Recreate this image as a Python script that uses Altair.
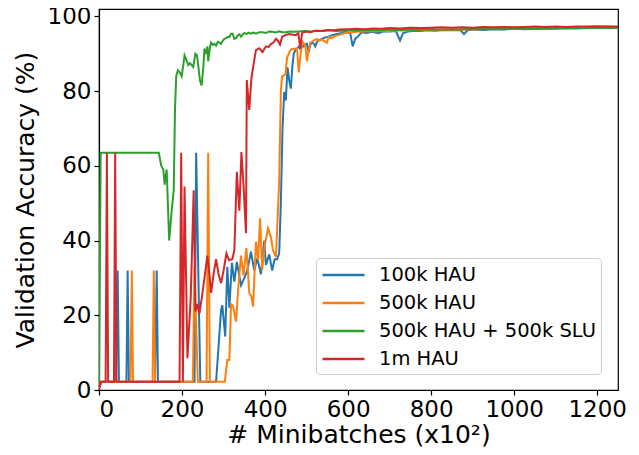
import altair as alt
import pandas as pd

SERIES = ["100k HAU", "500k HAU", "500k HAU + 500k SLU", "1m HAU"]
COLORS = ["#1f77b4", "#ff7f0e", "#2ca02c", "#d62728"]
X_TICKS = [0, 200, 400, 600, 800, 1000, 1200]
Y_TICKS = [0, 20, 40, 60, 80, 100]

# 100k HAU
blue_x = [0, 5, 41, 45, 48, 66, 69, 72, 135, 139, 142, 230, 234, 244, 282, 294, 297, 304, 309, 314,
          320, 326, 332, 342, 350, 357, 366, 374, 381, 390, 398, 402, 410, 417, 423, 429, 434, 438,
          442, 446, 450, 454, 458, 462, 466, 469, 473, 477, 482, 486, 490, 493, 497, 501, 505, 509,
          514, 517, 521, 525, 529, 537, 545, 553, 561, 573, 585, 593, 601, 605, 611, 617, 625, 633,
          645, 657, 665, 673, 681, 689, 700, 715, 725, 732, 745, 760, 775, 790, 810, 830, 850, 870,
          879, 888, 905, 925, 950, 975, 1000, 1025, 1050, 1075, 1100, 1125, 1150, 1175, 1200, 1225, 1250]
blue_y = [0.5, 2.2, 2.2, 32, 2.2, 2.2, 32, 2.2, 2.2, 32, 2.2, 2.2, 63.5, 2.2, 2.2, 21.4, 22.7, 14.3, 33, 22,
          34, 29, 34.3, 28, 30, 32, 37, 32, 35.3, 31, 40, 33.5, 36.3, 32, 35, 35, 36.6, 50,
          70, 79.8, 77.5, 86.4, 83, 80.7, 87, 90, 91, 91.4, 92, 91, 92.5, 92, 92.5, 92.7, 90.4, 92.5,
          93, 92.8, 92, 93.2, 93.6, 94, 94.4, 94.6, 95, 95.3, 95.6, 95.9, 95.6, 95.6, 92, 94, 94.8, 95.8,
          95.6, 95.9, 95.7, 95.5, 95.9, 96, 96, 96.1, 93.6, 95.5, 96, 96.2, 96.1, 96.3, 96.2, 96.4, 96.3, 96.4,
          95.3, 96.3, 96.5, 96.4, 96.6, 96.5, 96.7, 96.6, 96.7, 96.8, 96.7, 96.9, 96.8, 96.9, 97.0, 96.9, 97.0]

# 500k HAU
orange_x = [0, 5, 76, 79, 82, 129, 132, 135, 226, 230, 238, 259, 263, 267, 303, 309, 314, 318, 323, 330,
            335, 342, 348, 355, 362, 367, 371, 378, 383, 388, 393, 399, 407, 414, 419, 426, 429, 434,
            438, 441, 446, 449, 453, 457, 461, 465, 469, 473, 477, 481, 486, 490, 493, 497, 501, 505,
            509, 513, 517, 525, 529, 537, 549, 553, 561, 569, 577, 585, 593, 605, 620, 635, 650, 665,
            680, 700, 720, 740, 760, 780, 800, 820, 840, 860, 880, 900, 925, 950, 975, 1000, 1025, 1050,
            1075, 1100, 1125, 1150, 1175, 1200, 1225, 1250]
orange_y = [0.5, 2.2, 2.2, 32, 2.2, 2.2, 32, 2.2, 2.2, 33, 2.2, 2.2, 63.5, 2.2, 2.2, 8, 8, 23, 22.5, 18.3,
            26.7, 36, 30.7, 38, 26, 25, 22.3, 39.7, 34.8, 46, 32, 38.6, 43.3, 41, 37.4, 35.6, 42.8, 56,
            80, 84, 84.2, 84.6, 89, 90, 91, 91.3, 91.3, 91.4, 91.3, 85, 90.4, 93.2, 92.8, 92, 88, 91,
            93, 93.2, 93.6, 94, 93.5, 93.8, 93, 94.5, 94.2, 94.8, 95, 95.3, 95.6, 95.7, 95.9, 96, 96.1, 96,
            96.2, 96.1, 96.3, 96.2, 96.4, 96.3, 96.5, 96.4, 96.5, 96.4, 96.6, 96.5, 96.7, 96.6, 96.8, 96.7, 96.8, 96.9,
            96.8, 97.0, 96.9, 97.1, 97.0, 97.1, 97.3, 97.1]

# 500k HAU + 500k SLU
green_x = [0, 4, 144, 150, 155, 158, 163, 169, 175, 180, 183, 186, 190, 195, 199, 203, 206, 210, 215, 219,
           223, 227, 232, 236, 240, 243, 247, 251, 254, 258, 261, 263, 267, 270, 274, 278, 282, 286, 290,
           294, 298, 302, 306, 310, 314, 318, 322, 326, 330, 334, 338, 342, 346, 350, 355, 360, 366, 372,
           378, 386, 394, 402, 410, 418, 426, 434, 442, 450, 460, 470, 482, 495, 510, 525, 540, 555, 570,
           585, 600, 620, 640, 660, 680, 700, 720, 740, 760, 780, 800, 825, 850, 875, 900, 925, 950, 975,
           1000, 1025, 1050, 1075, 1100, 1125, 1150, 1175, 1200, 1225, 1250]
green_y = [0.3, 63.5, 63.5, 60, 59, 55, 59, 40, 48, 53.5, 75, 84, 85.6, 85, 84, 87, 89.6, 88.5, 87, 87.5,
           87, 86.5, 90, 89.6, 86, 83, 81.5, 86, 91.4, 90, 92, 88, 91.5, 93, 92.4, 92.7, 92.2, 93.2, 93,
           92.7, 93.5, 94, 94.2, 94.5, 94.5, 95.4, 95.4, 94, 94.2, 94.9, 95.2, 94.6, 95.2, 95.6, 95.3, 95.7, 95.4, 95.7,
           95.4, 95.8, 95.8, 95.6, 96, 95.9, 95.7, 96, 95.8, 95.8, 96, 95.9, 96, 96.1, 96, 96.2, 96.1, 96.3, 96.1,
           96.2, 96.3, 96.2, 96.4, 96.3, 96.3, 96.5, 96.4, 96.5, 96.3, 96.5, 96.6, 96.5, 96.6, 96.5, 96.7, 96.6, 96.7, 96.6,
           96.8, 96.7, 96.8, 96.7, 96.9, 96.8, 96.9, 96.9, 97.0, 96.9, 97.0]

# 1m HAU
red_x = [0, 5, 16, 19, 22, 36, 39, 42, 194, 198, 202, 206, 213, 221, 228, 232, 236, 242, 248, 254,
         261, 266, 270, 276, 282, 288, 294, 300, 307, 313, 321, 326, 332, 338, 343, 348, 354, 356, 362,
         367, 372, 378, 386, 394, 402, 408, 414, 420, 426, 431, 436, 441, 449, 457, 465, 474, 480, 485,
         489, 493, 500, 510, 520, 535, 550, 565, 580, 600, 620, 640, 660, 680, 700, 725, 750, 775, 800,
         825, 850, 875, 900, 925, 950, 975, 1000, 1025, 1050, 1075, 1100, 1125, 1150, 1175, 1200, 1225, 1250]
red_y = [0.3, 2.2, 2.2, 63.5, 2.2, 2.2, 63.5, 2.2, 2.2, 63.5, 2.2, 54.5, 8.5, 25, 53.5, 21, 23, 20.5, 25, 30,
         36, 31, 26, 31, 35, 31, 28.6, 32, 36.6, 34.8, 35, 37.4, 58.4, 48, 63.7, 55, 42, 83, 75,
         83.4, 87, 91, 91.5, 90.5, 92, 91.8, 92.6, 93, 94, 93.5, 92.5, 94.6, 95, 95.3, 95.2, 95, 95.5, 91.4,
         95.5, 95.8, 96, 95.8, 96.2, 96.1, 96.4, 96.3, 96.5, 96.6, 96.7, 96.6, 96.8, 96.7, 96.9, 96.8, 97.0, 96.9, 97.0,
         97.1, 97.0, 97.1, 97.0, 97.2, 97.1, 97.2, 97.1, 97.2, 97.3, 97.2, 97.3, 97.2, 97.3, 97.3, 97.4, 97.3, 97.3]

rows = []
for name, xs, ys in [(SERIES[0], blue_x, blue_y), (SERIES[1], orange_x, orange_y),
                     (SERIES[2], green_x, green_y), (SERIES[3], red_x, red_y)]:
    rows += [{"series": name, "x": x, "y": y} for x, y in zip(xs, ys)]
df = pd.DataFrame(rows)

FONT = "DejaVu Sans"

color = alt.Color(
    "series:N",
    scale=alt.Scale(domain=SERIES, range=COLORS),
    legend=alt.Legend(
        title=None, orient="none", legendX=217, legendY=249,
        symbolType="M-1,0L3,0", symbolSize=441, symbolStrokeWidth=2.5,
        labelFontSize=19.5, labelFont=FONT, labelColor="black", labelOffset=34,
        labelLimit=400, rowPadding=6, padding=5, strokeColor="#cccccc",
        fillColor="white", cornerRadius=4,
    ),
)

base = alt.Chart(df).encode(
    x=alt.X("x:Q", scale=alt.Scale(domain=[0, 1250], nice=False, zero=False),
            axis=alt.Axis(values=X_TICKS, title="# Minibatches (x10²)", format="d",
                          labelPadding=3, titlePadding=1)),
    y=alt.Y("y:Q", scale=alt.Scale(domain=[0, 102.0], nice=False),
            axis=alt.Axis(values=Y_TICKS, title="Validation Accuracy (%)", format="d",
                          labelPadding=3, titlePadding=9)),
    color=color,
)

layers = [base.transform_filter(alt.datum.series == s).mark_line(strokeWidth=2, clip=True)
          for s in SERIES]

chart = alt.layer(*layers).properties(
    width=519, height=381,
    padding={"left": 91, "top": 1, "right": 13, "bottom": 57},
    autosize=alt.AutoSizeParams(type="none"),
).configure_view(
    stroke="black", strokeWidth=1.2
).configure_axis(
    labelFont=FONT, labelFontSize=23, labelColor="black",
    titleFont=FONT, titleFontSize=25, titleFontWeight="normal", titleColor="black",
    tickColor="black", tickSize=5, tickWidth=1.2, domainColor="black", domainWidth=1.2,
    grid=False,
)

chart.save("out.html", embed_options={"renderer": "svg", "actions": False})
